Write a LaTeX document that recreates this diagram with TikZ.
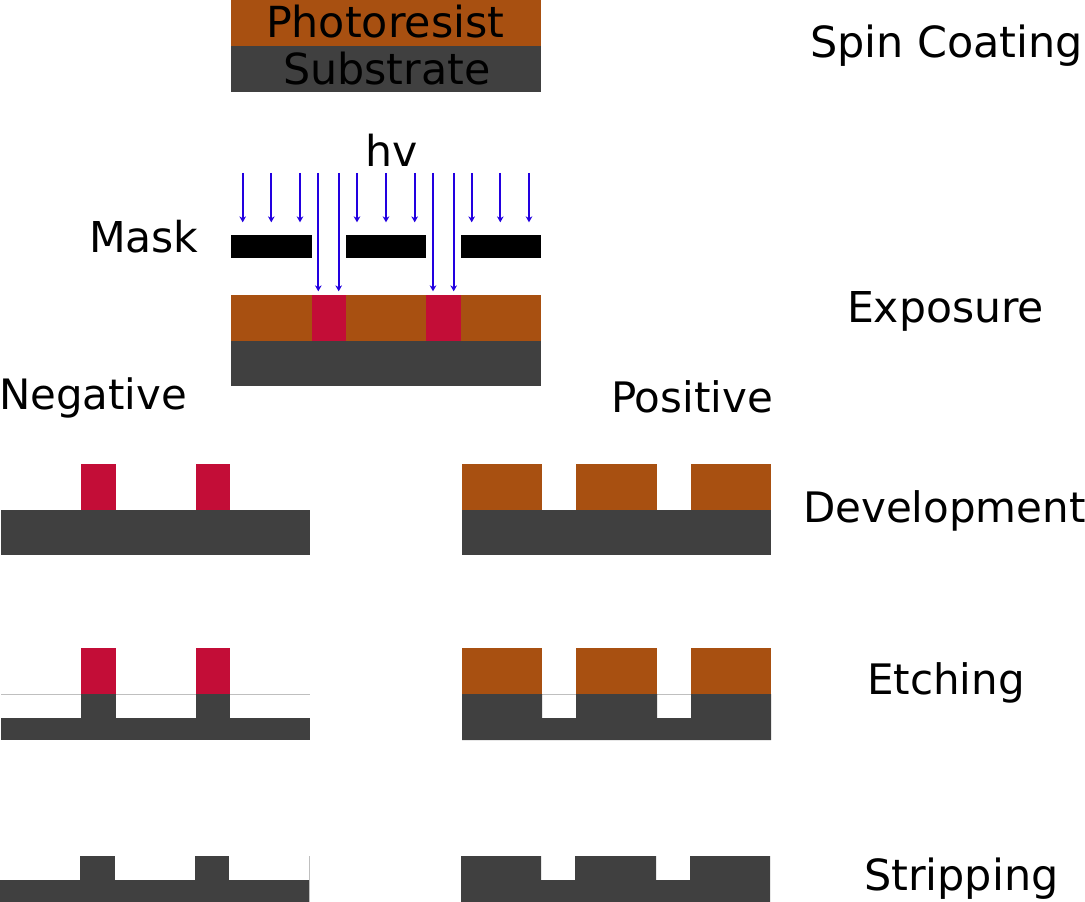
\documentclass[tikz,border=0pt]{standalone}
\usepackage{fontspec}
\setmainfont{DejaVu Sans}
\usetikzlibrary{arrows.meta}
\definecolor{resist}{HTML}{A85011}
\definecolor{exposed}{HTML}{C30D37}
\definecolor{subs}{HTML}{404040}
\definecolor{ray}{HTML}{2200E0}
\tikzset{
  lbl/.style={anchor=base west,inner sep=0pt,outer sep=0pt,font=\fontsize{#1pt}{36pt}\selectfont,text=black},
  lbl/.default=31.5,
  rayline/.style={draw=ray,line width=1.35pt,-{Stealth[length=4.5pt,width=5pt]},shorten >=-1pt},
  hair/.style={draw=black!25,line width=0.6pt}
}
\begin{document}
\begin{tikzpicture}[x=0.75pt,y=-0.75pt]
\useasboundingbox (0,0) rectangle (1085,902);
% Spin coating
\fill[resist] (231,0) rectangle (541,46);
\fill[subs] (231,46) rectangle (541,92);
\node[lbl=32.1] (photoresist) at (266,38) {Photoresist};
\node[lbl=32.1] (substrate) at (283,85) {Substrate};
\node[lbl=32.2] (spin) at (810,57.5) {Spin Coating};
% Exposure
\node[lbl=32] (hv) at (365,167) {hv};
\node[lbl=31.9] (mask) at (89,253) {Mask};
\fill[black] (231,235) rectangle (311.5,258);
\fill[black] (346,235) rectangle (426,258);
\fill[black] (460.5,235) rectangle (541,258);
\fill[resist] (231,295) rectangle (541,341);
\fill[exposed] (311.5,295) rectangle (346,341);
\fill[exposed] (426,295) rectangle (460.5,341);
\fill[subs] (231,341) rectangle (541,386);
\foreach \i/\x in {1/242.7,2/271.3,3/300,4/357,5/386,6/414.7,7/471.7,8/500.3,9/529}{
  \coordinate (sa\i) at (\x,173);
  \coordinate (ea\i) at (\x,221);
  \draw[rayline] (sa\i) -- (ea\i);
}
\foreach \i/\x in {1/318.3,2/338.7,3/433,4/453.7}{
  \coordinate (sb\i) at (\x,173);
  \coordinate (eb\i) at (\x,290);
  \draw[rayline] (sb\i) -- (eb\i);
}
\node[lbl=31.9] (exposure) at (847,322) {Exposure};
\node[lbl=31.4] (negative) at (-1,409) {Negative};
\node[lbl] (positive) at (611,412.5) {Positive};
% Development
\fill[exposed] (81,464) rectangle (115.5,510);
\fill[exposed] (196,464) rectangle (230,510);
\fill[subs] (1,510) rectangle (310,555);
\fill[resist] (462,464) rectangle (542,510);
\fill[resist] (576,464) rectangle (657,510);
\fill[resist] (691,464) rectangle (771,510);
\fill[subs] (462,510) rectangle (771,555);
\node[lbl] (development) at (803,522) {Development};
% Etching
\draw[hair] (1,694) -- (310,694);
\draw[hair] (542,694) -- (576,694);
\draw[hair] (657,694) -- (691,694);
\fill[exposed] (81,648) rectangle (115.5,694);
\fill[exposed] (196,648) rectangle (230,694);
\fill[subs] (81,694) rectangle (115.5,718);
\fill[subs] (196,694) rectangle (230,718);
\fill[subs] (1,718) rectangle (310,740);
\fill[resist] (462,648) rectangle (542,694);
\fill[resist] (576,648) rectangle (657,694);
\fill[resist] (691,648) rectangle (771,694);
\fill[subs] (462,694) -- (542,694) -- (542,718) -- (576,718) -- (576,694) -- (657,694) -- (657,718) -- (691,718) -- (691,694) -- (771,694) -- (771,740) -- (462,740) -- cycle;
\node[lbl] (etching) at (867,694.5) {Etching};
% Stripping
\fill[subs] (0,880) rectangle (309,902);
\fill[subs] (80,856) rectangle (114.5,880);
\fill[subs] (195,856) rectangle (229,880);
\draw[hair] (309.5,856) -- (309.5,902);
\fill[subs] (461,856) -- (541,856) -- (541,880) -- (575,880) -- (575,856) -- (656,856) -- (656,880) -- (690,880) -- (690,856) -- (770,856) -- (770,902) -- (461,902) -- cycle;
\node[lbl=32.2] (stripping) at (864,890.5) {Stripping};
\end{tikzpicture}
\end{document}
